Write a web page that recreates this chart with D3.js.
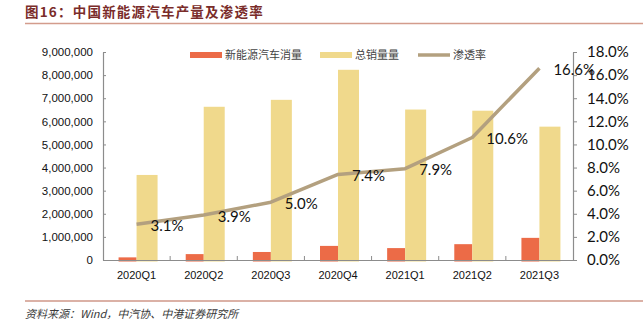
<!DOCTYPE html>
<html>
<head>
<meta charset="utf-8">
<script src="https://cdn.jsdelivr.net/npm/d3@7"></script>
<style>
  html, body { margin: 0; padding: 0; background: #fff; }
  svg { display: block; }
</style>
</head>
<body>
<svg id="chart" width="643" height="326"></svg>
<script>
// Quarterly data
const quarters = ["2020Q1", "2020Q2", "2020Q3", "2020Q4", "2021Q1", "2021Q2", "2021Q3"];
const nevSales = [114000, 255000, 347000, 610000, 515000, 685000, 958000];
const totalSales = [3680000, 6630000, 6930000, 8230000, 6510000, 6460000, 5770000];
const penetration = [3.1, 3.9, 5.0, 7.4, 7.9, 10.6, 16.6];
const leftTicks = [0, 1000000, 2000000, 3000000, 4000000, 5000000, 6000000, 7000000, 8000000, 9000000];
const rightTicks = [0, 2, 4, 6, 8, 10, 12, 14, 16, 18];
const legendNames = ["新能源汽车消量", "总销量量", "渗透率"];

const COLORS = { nev: "#ec6b47", total: "#f0d98c", rate: "#b3a07f", axis: "#8c8c8c" };
const NUM_FONT = "Liberation Sans, Arial, sans-serif";
const PCT_FONT = "Lato, sans-serif";
const CJK_FONT = "'Noto Sans CJK SC', sans-serif";

const svg = d3.select("#chart");

// Title and rule lines
svg.append("text")
  .attr("x", 25).attr("y", 17)
  .attr("font-family", CJK_FONT).attr("font-weight", "bold")
  .attr("font-size", 13.5).attr("letter-spacing", 1.2)
  .attr("fill", "#7a2c2a")
  .text("图16：中国新能源汽车产量及渗透率");
svg.append("line").attr("x1", 25).attr("x2", 643).attr("y1", 23.5).attr("y2", 23.5)
  .attr("stroke", "#d39c8c").attr("stroke-width", 1.5);
svg.append("line").attr("x1", 25).attr("x2", 643).attr("y1", 301).attr("y2", 301)
  .attr("stroke", "#b8644e").attr("stroke-width", 1.2);
svg.append("text")
  .attr("x", 25).attr("y", 318)
  .attr("font-family", CJK_FONT).attr("font-style", "italic")
  .attr("font-size", 11).attr("fill", "#3a3a3a")
  .text("资料来源：Wind，中汽协、中港证券研究所");

// Plot area
const plot = { left: 103, right: 573, top: 52, bottom: 260 };

const x = d3.scaleBand().domain(quarters).range([plot.left, plot.right]).paddingInner(0).paddingOuter(0);
const yLeft = d3.scaleLinear().domain([0, 9000000]).range([plot.bottom, plot.top]);
const yRight = d3.scaleLinear().domain([0, 18]).range([plot.bottom, plot.top]);
const center = q => x(q) + x.bandwidth() / 2;

const nevW = 18, totalW = 21;

// Bars: NEV sales (left of centre) and total sales (right of centre)
svg.append("g").selectAll("rect").data(quarters).join("rect")
  .attr("x", (q) => center(q) - nevW)
  .attr("y", (q, i) => yLeft(nevSales[i]))
  .attr("width", nevW)
  .attr("height", (q, i) => yLeft(0) - yLeft(nevSales[i]) + 1.5)
  .attr("fill", COLORS.nev);

svg.append("g").selectAll("rect").data(quarters).join("rect")
  .attr("x", (q) => center(q))
  .attr("y", (q, i) => yLeft(totalSales[i]))
  .attr("width", totalW)
  .attr("height", (q, i) => yLeft(0) - yLeft(totalSales[i]) + 1.5)
  .attr("fill", COLORS.total);

// Left axis
const gL = svg.append("g").attr("transform", `translate(${plot.left},0)`)
  .call(d3.axisLeft(yLeft).tickValues(leftTicks).tickSizeInner(-3).tickSizeOuter(0).tickPadding(10)
    .tickFormat(d3.format(",")));
gL.selectAll("text").attr("font-family", NUM_FONT).attr("font-size", 11.5).attr("fill", "#111");

// Right axis
const gR = svg.append("g").attr("transform", `translate(${plot.right},0)`)
  .call(d3.axisRight(yRight).tickValues(rightTicks).tickSizeInner(4).tickSizeOuter(0).tickPadding(10)
    .tickFormat(d => d.toFixed(1) + "%"));
gR.selectAll("text").attr("font-family", PCT_FONT).attr("font-size", 15).attr("fill", "#111");

// Bottom axis with boundary ticks
const gB = svg.append("g").attr("transform", `translate(0,${plot.bottom})`)
  .call(d3.axisBottom(x).tickSize(0).tickPadding(11));
gB.selectAll("text").attr("font-family", NUM_FONT).attr("font-size", 11).attr("fill", "#111");
gB.selectAll(".bnd").data(quarters.slice(1)).join("line").attr("class", "bnd")
  .attr("x1", q => x(q)).attr("x2", q => x(q)).attr("y1", 0).attr("y2", -4)
  .attr("stroke", COLORS.axis);

[gL, gR, gB].forEach(g => {
  g.selectAll(".domain").attr("stroke", COLORS.axis).attr("stroke-width", 1.2);
  g.selectAll(".tick line").attr("stroke", COLORS.axis);
});

// Penetration line
const line = d3.line().x((d, i) => center(quarters[i])).y(d => yRight(d));
svg.append("path").datum(penetration)
  .attr("d", line)
  .attr("fill", "none").attr("stroke", COLORS.rate).attr("stroke-width", 3.5)
  .attr("stroke-linejoin", "round");

// Value labels to the right of each point
svg.append("g").selectAll("text").data(penetration).join("text")
  .attr("x", (d, i) => center(quarters[i]) + 14)
  .attr("y", d => yRight(d) + 1.5)
  .attr("dy", "0.35em")
  .attr("font-family", PCT_FONT).attr("font-size", 15).attr("fill", "#111")
  .text(d => d.toFixed(1) + "%");

// Legend
const legend = svg.append("g").attr("font-family", CJK_FONT).attr("font-size", 11).attr("fill", "#444");
const lg = [
  { x: 190, color: COLORS.nev, type: "bar" },
  { x: 320, color: COLORS.total, type: "bar" },
  { x: 418, color: COLORS.rate, type: "line" }
];
lg.forEach((d, i) => {
  if (d.type === "bar") {
    legend.append("rect").attr("x", d.x).attr("y", 52).attr("width", 32).attr("height", 6).attr("fill", d.color);
  } else {
    legend.append("line").attr("x1", d.x).attr("x2", d.x + 32).attr("y1", 55).attr("y2", 55)
      .attr("stroke", d.color).attr("stroke-width", 3.5);
  }
  legend.append("text").attr("x", d.x + 35).attr("y", 55).attr("dy", "0.36em").text(legendNames[i]);
});
</script>
</body>
</html>
